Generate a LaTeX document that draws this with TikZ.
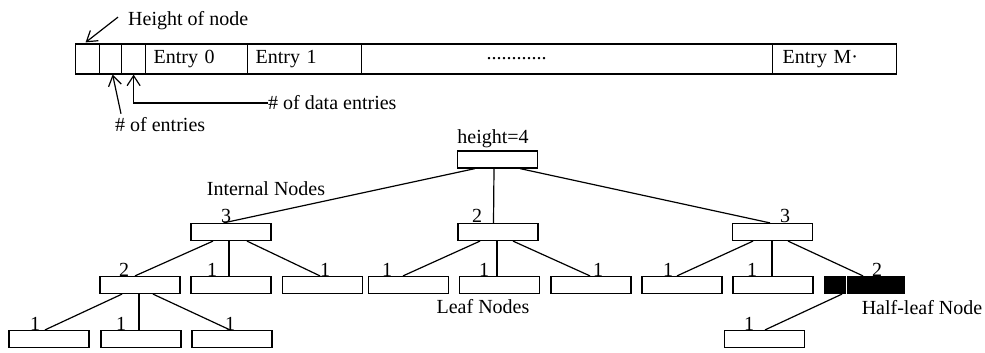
\documentclass[tikz,border=0pt]{standalone}
\usepackage{fontspec}
\setmainfont{Liberation Serif}
\usetikzlibrary{arrows.meta}
\begin{document}
\begin{tikzpicture}[x=1pt,y=-1pt,
  every node/.style={font=\fontsize{20}{24}\selectfont},
  tbox/.style={draw, line width=1.2pt, minimum width=80pt, minimum height=17pt, inner sep=0pt},
  blk/.style={tbox, fill=black},
  cell/.style={draw, line width=1.2pt, minimum height=30pt, inner sep=0pt, anchor=west},
  lab/.style={anchor=base, inner sep=0pt},
  edge/.style={line width=1.2pt},
  ptr/.style={line width=1.2pt, -{Straight Barb[length=10pt,width=13pt]}}
]
\useasboundingbox (0,0) rectangle (985,353);

% ---- record layout ----
\node[cell, minimum width=24pt] (c1) at (75,59) {};
\node[cell, minimum width=22pt] (c2) at (99,59) {};
\node[cell, minimum width=24pt] (c3) at (121,59) {};
\node[cell, minimum width=102pt, text width=86pt, inner xsep=8pt, align=left] (e0) at (145,59) {Entry 0};
\node[cell, minimum width=114pt, text width=98pt, inner xsep=8pt, align=left] (e1) at (247,59) {Entry 1};
\node[cell, minimum width=411pt, text width=161pt, inner xsep=125pt, align=left] (dots) at (361,59) {............};
\node[cell, minimum width=124pt, text width=104pt, inner xsep=10pt, align=left] (eM) at (772,59) {Entry M·};

\node[lab, anchor=base west] (hn) at (128,26) {Height of node};
\node[lab, anchor=base west] (ne) at (115,131) {\# of entries};
\node[lab, anchor=base west] (nd) at (268,110) {\# of data entries};

\draw[ptr] ([xshift=-10pt,yshift=4pt]hn.west) -- ([xshift=-2pt,yshift=1pt]c1.north);
\draw[ptr] ([xshift=6pt,yshift=3pt]ne.north west) -- ([xshift=2pt]c2.south);
\draw[ptr] (nd.west) -| (c3.south);

% ---- tree ----
\node[tbox] (r) at (497.5,159.5) {};
\node[lab] at (493,143) {height=4};

\node[tbox] (La) at (231,232) {};
\node[tbox] (Lb) at (498,232) {};
\node[tbox] (Lc) at (772.5,232) {};

\node[tbox] (A) at (140,285) {};
\node[tbox] (B) at (231,285) {};
\node[tbox] (C) at (322.5,285) {};
\node[tbox] (D) at (408.5,285) {};
\node[tbox] (E) at (499.5,285) {};
\node[tbox] (F) at (591,285) {};
\node[tbox] (G) at (682,285) {};
\node[tbox] (H) at (773,285) {};
\node[blk] (K) at (864.5,285) {};
\draw[white, line width=1pt] ([xshift=-18.5pt]K.north) -- ([xshift=-18.5pt]K.south);

\node[tbox] (a) at (49,339) {};
\node[tbox] (b) at (141,339) {};
\node[tbox] (c) at (232,339) {};
\node[tbox] (d) at (764.5,339) {};

% labels
\node[lab] at (226,222.5) {3};
\node[lab] at (477,222.5) {2};
\node[lab] at (785,222.5) {3};
\node[lab] at (124,276) {2};
\node[lab] at (212,276) {1};
\node[lab] at (325,276) {1};
\node[lab] at (387,276) {1};
\node[lab] at (484,276) {1};
\node[lab] at (598,276) {1};
\node[lab] at (668,276) {1};
\node[lab] at (752,276) {1};
\node[lab] at (877,276) {2};
\node[lab] at (35,330) {1};
\node[lab] at (121,330) {1};
\node[lab] at (230,330) {1};
\node[lab] at (749,330) {1};

\node[lab] at (266,195) {Internal Nodes};
\node[lab] at (483,313) {Leaf Nodes};
\node[lab] at (922,314) {Half-leaf Node};

% edges
\draw[edge] ([xshift=-22.5pt]r.south) -- ([xshift=-7.5pt]La.north);
\draw[edge] ([xshift=-3.5pt]r.south) -- ([xshift=-4.5pt]Lb.north);
\draw[edge] ([xshift=22.5pt]r.south) -- ([xshift=-2.5pt]Lc.north);

\draw[edge] ([xshift=-18pt]La.south) -- ([xshift=-5pt]A.north);
\draw[edge] ([xshift=-2pt]La.south) -- ([xshift=-2pt]B.north);
\draw[edge] ([xshift=16pt]La.south) -- ([xshift=-2.5pt]C.north);

\draw[edge] ([xshift=-18pt]Lb.south) -- ([xshift=-5.5pt]D.north);
\draw[edge] ([xshift=-1pt]Lb.south) -- ([xshift=-2.5pt]E.north);
\draw[edge] ([xshift=15pt]Lb.south) -- ([xshift=-1pt]F.north);

\draw[edge] ([xshift=-19.5pt]Lc.south) -- ([xshift=-5pt]G.north);
\draw[edge] ([xshift=-0.5pt]Lc.south) -- ([xshift=-1pt]H.north);
\draw[edge] ([xshift=15.5pt]Lc.south) -- ([xshift=-1.5pt]K.north);

\draw[edge] ([xshift=-18pt]A.south) -- ([xshift=-4pt]a.north);
\draw[edge] ([xshift=-1pt]A.south) -- ([xshift=-2pt]b.north);
\draw[edge] ([xshift=13pt]A.south) -- ([xshift=-2pt]c.north);

\draw[edge] ([xshift=-22.5pt]K.south) -- ([xshift=0.5pt]d.north);
\end{tikzpicture}
\end{document}
